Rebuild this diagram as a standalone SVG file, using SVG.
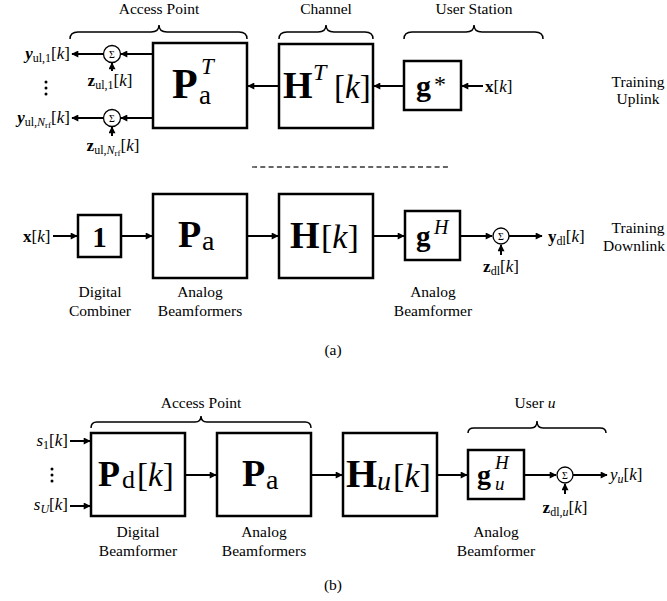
<svg xmlns="http://www.w3.org/2000/svg" width="667" height="601" viewBox="0 0 667 601" font-family="'Liberation Serif', Tinos, 'DejaVu Serif', 'Noto Serif', serif">
<style>
.box{fill:#fff;stroke:#000;stroke-width:2.5}
.ln{stroke:#000;stroke-width:2;fill:none;marker-end:url(#ah)}
.br{fill:none;stroke:#000;stroke-width:1.5}
.sum{fill:#fff;stroke:#000;stroke-width:1.3}
text{font-family:'Liberation Serif',Tinos,'DejaVu Serif','Noto Serif',serif;fill:#000}
.t{font-size:15.5px;text-anchor:middle}
.m{font-size:17px}
.b{font-weight:bold}
.i{font-style:italic}
.sg{font-size:10px;text-anchor:middle}
</style>
<defs>
<marker id="ah" viewBox="0 0 10 10" refX="9" refY="5" markerWidth="8" markerHeight="7" markerUnits="userSpaceOnUse" orient="auto"><path d="M0,0 L10,5 L0,10 z"/></marker>
</defs>

<g id="brace-ap-top"><path class="br" d="M70,39 Q70,32 78,32 L151,32 Q159,32 159,25 Q159,32 167,32 L239,32 Q247,32 247,39"/><text class="t" x="159" y="14">Access Point</text></g>
<g id="brace-ch-top"><path class="br" d="M279,39 Q279,32 287,32 L318,32 Q326,32 326,25 Q326,32 334,32 L365,32 Q373,32 373,39"/><text class="t" x="326" y="14">Channel</text></g>
<g id="brace-us-top"><path class="br" d="M404,39 Q404,32 412,32 L466,32 Q474,32 474,25 Q474,32 482,32 L535,32 Q543,32 543,39"/><text class="t" x="474" y="14">User Station</text></g>

<g id="PaT"><rect class="box" x="153" y="43" width="94" height="85"/><text class="b" x="172" y="98" font-size="42">P</text><text x="199" y="104" font-size="27">a</text><text class="i" x="201" y="74" font-size="23">T</text></g>
<g id="HT"><rect class="box" x="279" y="44" width="94" height="84"/><text class="b" x="283" y="98" font-size="38">H</text><text class="i" x="313" y="80" font-size="24">T</text><text x="334" y="98" font-size="33">[<tspan class="i">k</tspan>]</text></g>
<g id="gstar"><rect class="box" x="404" y="61" width="57" height="49"/><text class="b" x="416" y="96" font-size="30">g</text><text x="434" y="92" font-size="24">*</text></g>
<g id="xk-top"><text class="m" x="485" y="92"><tspan class="b">x</tspan>[<tspan class="i">k</tspan>]</text></g>

<g id="sum1"><circle class="sum" cx="112" cy="54" r="8.5"/><text class="sg" x="112" y="57.5">Σ</text></g>
<g id="sum2"><circle class="sum" cx="112" cy="118" r="8.5"/><text class="sg" x="112" y="121.5">Σ</text></g>
<g id="yul1"><text class="m" x="70" y="59" text-anchor="end"><tspan class="b i">y</tspan><tspan font-size="12" dy="3">ul,1</tspan><tspan dy="-3">[</tspan><tspan class="i">k</tspan>]</text></g>
<g id="yulN"><text class="m" x="70" y="123" text-anchor="end"><tspan class="b i">y</tspan><tspan font-size="12" dy="3">ul,<tspan class="i">N</tspan><tspan font-size="9" dy="2">rf</tspan></tspan><tspan dy="-5">[</tspan><tspan class="i">k</tspan>]</text></g>
<g id="zul1"><text class="m" x="110" y="86" text-anchor="middle"><tspan class="b">z</tspan><tspan font-size="12" dy="3">ul,1</tspan><tspan dy="-3">[</tspan><tspan class="i">k</tspan>]</text></g>
<g id="zulN"><text class="m" x="113" y="151" text-anchor="middle"><tspan class="b">z</tspan><tspan font-size="12" dy="3">ul,<tspan class="i">N</tspan><tspan font-size="9" dy="2">rf</tspan></tspan><tspan dy="-5">[</tspan><tspan class="i">k</tspan>]</text></g>
<g id="vdots-top"><circle cx="46" cy="82" r="1.5"/><circle cx="46" cy="88" r="1.5"/><circle cx="46" cy="94" r="1.5"/></g>
<g id="lbl-up"><text class="t" x="638" y="87">Training</text><text class="t" x="638" y="104">Uplink</text></g>

<line x1="252" y1="167" x2="451" y2="167" stroke="#333" stroke-width="1.3" stroke-dasharray="5,3.3"/>

<g id="xk-mid"><text class="m" x="23" y="242"><tspan class="b">x</tspan>[<tspan class="i">k</tspan>]</text></g>
<g id="one"><rect class="box" x="78" y="215" width="43" height="42"/><text class="b" x="99.5" y="247" font-size="29" text-anchor="middle">1</text></g>
<g id="Pa-mid"><rect class="box" x="153" y="194" width="94" height="84"/><text class="b" x="178" y="247" font-size="38">P</text><text x="202" y="250" font-size="28">a</text></g>
<g id="H-mid"><rect class="box" x="279" y="194" width="94" height="84"/><text class="b" x="290" y="248" font-size="38">H</text><text x="321" y="248" font-size="34">[<tspan class="i">k</tspan>]</text></g>
<g id="gH-mid"><rect class="box" x="405" y="211" width="55" height="49"/><text class="b" x="416" y="246" font-size="29">g</text><text class="i" x="434" y="234" font-size="20">H</text></g>
<g id="sum3"><circle class="sum" cx="501" cy="236" r="8"/><text class="sg" x="501" y="239.5">Σ</text></g>
<g id="ydl"><text class="m" x="548" y="242"><tspan class="b">y</tspan><tspan font-size="12" dy="3">dl</tspan><tspan dy="-3">[</tspan><tspan class="i">k</tspan>]</text></g>
<g id="zdl"><text class="m" x="501" y="272" text-anchor="middle"><tspan class="b">z</tspan><tspan font-size="12" dy="3">dl</tspan><tspan dy="-3">[</tspan><tspan class="i">k</tspan>]</text></g>
<g id="lbl-down"><text class="t" x="638" y="233">Training</text><text class="t" x="634" y="251">Downlink</text></g>
<g id="lbl-dc"><text class="t" x="100" y="297">Digital</text><text class="t" x="100" y="316">Combiner</text></g>
<g id="lbl-ab1"><text class="t" x="200" y="297">Analog</text><text class="t" x="200" y="316">Beamformers</text></g>
<g id="lbl-ab2"><text class="t" x="433" y="297">Analog</text><text class="t" x="433" y="316">Beamformer</text></g>
<text class="t" x="333" y="355" font-size="16">(a)</text>

<g id="brace-ap-bot"><path class="br" d="M91,428 Q91,422 97,422 L195,422 Q201,422 201,416 Q201,422 207,422 L305,422 Q311,422 311,428"/><text class="t" x="201" y="408">Access Point</text></g>
<g id="brace-user"><path class="br" d="M468,433 Q468,428 474,428 L531,428 Q537,428 537,421 Q537,428 543,428 L600,428 Q606,428 606,433"/><text class="t" x="535" y="408">User <tspan class="i">u</tspan></text></g>
<g id="s1"><text class="m" x="68" y="446" text-anchor="end"><tspan class="i">s</tspan><tspan font-size="12" dy="3">1</tspan><tspan dy="-3">[</tspan><tspan class="i">k</tspan>]</text></g>
<g id="sU"><text class="m" x="68" y="510" text-anchor="end"><tspan class="i">s</tspan><tspan class="i" font-size="12" dy="3">U</tspan><tspan dy="-3">[</tspan><tspan class="i">k</tspan>]</text></g>
<g id="vdots-bot"><circle cx="52" cy="469" r="1.5"/><circle cx="52" cy="475" r="1.5"/><circle cx="52" cy="481" r="1.5"/></g>
<g id="Pd"><rect class="box" x="91" y="433" width="94" height="83"/><text class="b" x="98" y="486" font-size="36">P</text><text x="122" y="488" font-size="26">d</text><text x="137" y="486" font-size="33">[<tspan class="i">k</tspan>]</text></g>
<g id="Pa-bot"><rect class="box" x="217" y="433" width="94" height="83"/><text class="b" x="242" y="486" font-size="38">P</text><text x="266" y="489" font-size="28">a</text></g>
<g id="Hu"><rect class="box" x="343" y="433" width="94" height="83"/><text class="b" x="346" y="487" font-size="40">H</text><text class="i" x="377" y="490" font-size="28">u</text><text x="393" y="487" font-size="34">[<tspan class="i">k</tspan>]</text></g>
<g id="guH"><rect class="box" x="468" y="450" width="56" height="49"/><text class="b" x="477" y="484" font-size="28">g</text><text class="i" x="495" y="469" font-size="19">H</text><text class="i" x="495" y="490" font-size="19">u</text></g>
<g id="sum4"><circle class="sum" cx="565" cy="475" r="8"/><text class="sg" x="565" y="478.5">Σ</text></g>
<g id="yu"><text class="m" x="610" y="480"><tspan class="i">y</tspan><tspan class="i" font-size="12" dy="3">u</tspan><tspan dy="-3">[</tspan><tspan class="i">k</tspan>]</text></g>
<g id="zdlu"><text class="m" x="565" y="513" text-anchor="middle"><tspan class="b">z</tspan><tspan font-size="12" dy="3">dl,<tspan class="i">u</tspan></tspan><tspan dy="-3">[</tspan><tspan class="i">k</tspan>]</text></g>
<g id="lbl-db"><text class="t" x="138" y="537">Digital</text><text class="t" x="138" y="556">Beamformer</text></g>
<g id="lbl-ab3"><text class="t" x="264" y="537">Analog</text><text class="t" x="264" y="556">Beamformers</text></g>
<g id="lbl-ab4"><text class="t" x="496" y="537">Analog</text><text class="t" x="496" y="556">Beamformer</text></g>
<text class="t" x="333" y="590" font-size="16">(b)</text>

<g id="connectors">
<line class="ln" x1="483" y1="86" x2="462" y2="86"/>
<line class="ln" x1="404" y1="86" x2="374" y2="86"/>
<line class="ln" x1="279" y1="86" x2="248" y2="86"/>
<line class="ln" x1="153" y1="54" x2="121" y2="54"/>
<line class="ln" x1="153" y1="118" x2="121" y2="118"/>
<line class="ln" x1="103" y1="54" x2="72" y2="54"/>
<line class="ln" x1="103" y1="118" x2="72" y2="118"/>
<line class="ln" x1="112" y1="71" x2="112" y2="63"/>
<line class="ln" x1="112" y1="136" x2="112" y2="127"/>
<line class="ln" x1="53" y1="236" x2="77" y2="236"/>
<line class="ln" x1="121" y1="236" x2="152" y2="236"/>
<line class="ln" x1="247" y1="236" x2="278" y2="236"/>
<line class="ln" x1="373" y1="236" x2="404" y2="236"/>
<line class="ln" x1="460" y1="236" x2="492" y2="236"/>
<line class="ln" x1="509" y1="236" x2="542" y2="236"/>
<line class="ln" x1="501" y1="255" x2="501" y2="245"/>
<line class="ln" x1="70" y1="441" x2="90" y2="441"/>
<line class="ln" x1="70" y1="506" x2="90" y2="506"/>
<line class="ln" x1="185" y1="475" x2="216" y2="475"/>
<line class="ln" x1="311" y1="475" x2="342" y2="475"/>
<line class="ln" x1="437" y1="475" x2="467" y2="475"/>
<line class="ln" x1="524" y1="475" x2="556" y2="475"/>
<line class="ln" x1="573" y1="475" x2="607" y2="475"/>
<line class="ln" x1="565" y1="494" x2="565" y2="484"/>
</g>
</svg>
